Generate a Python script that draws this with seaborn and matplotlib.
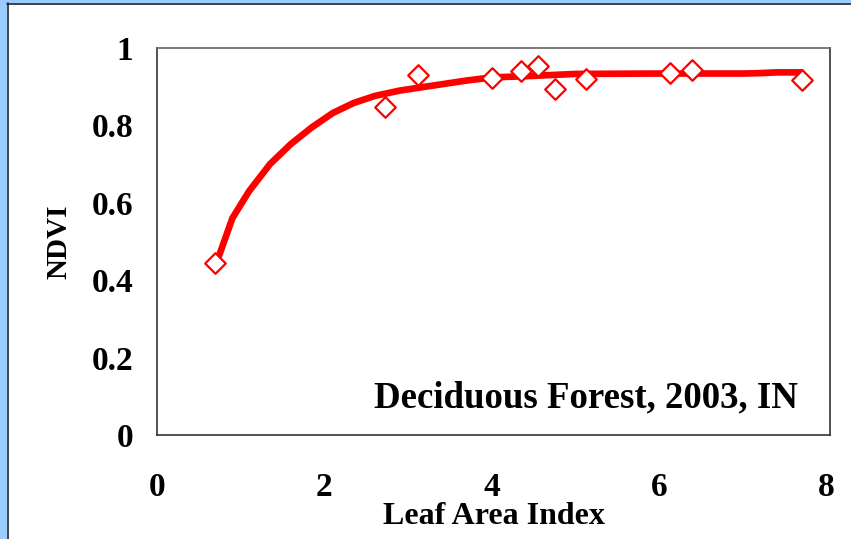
import numpy as np
import pandas as pd
import matplotlib
matplotlib.use("Agg")
import matplotlib.pyplot as plt
import seaborn as sns
from matplotlib.patches import Rectangle
from matplotlib.lines import Line2D

# Observed data
lai_obs = [0.69, 2.72, 3.12, 4.0, 4.35, 4.55, 4.75, 5.12, 6.13, 6.39, 7.71]
ndvi_obs = [0.444, 0.848, 0.930, 0.922, 0.940, 0.953, 0.895, 0.920, 0.935, 0.944, 0.917]

# Fitted curve
lai_fit = [0.72, 0.9, 1.1, 1.35, 1.6, 1.85, 2.1, 2.35, 2.6, 2.9, 3.3, 3.7, 4.0, 4.5,
           5.0, 6.0, 7.0, 7.2, 7.4, 7.7]
ndvi_fit = [0.45, 0.56, 0.63, 0.70, 0.752, 0.795, 0.832, 0.858, 0.876, 0.89, 0.903,
            0.916, 0.924, 0.928, 0.933, 0.934, 0.934, 0.935, 0.937, 0.937]

x_ticks = [0, 2, 4, 6, 8]
y_ticks = [0, 0.2, 0.4, 0.6, 0.8, 1]
y_tick_labels = ["0", "0.2", "0.4", "0.6", "0.8", "1"]

sns.set_style("white")
plt.rcParams['font.family'] = ['Liberation Serif', 'DejaVu Serif']
plt.rcParams['font.weight'] = 'bold'
plt.rcParams['text.color'] = 'black'
plt.rcParams['axes.labelcolor'] = 'black'
plt.rcParams['xtick.labelcolor'] = 'black'
plt.rcParams['ytick.labelcolor'] = 'black'

W, H = 851, 539
fig = plt.figure(figsize=(W / 100, H / 100), dpi=100)
fig.patch.set_facecolor("white")

# blue frame strips
fig.add_artist(Rectangle((0, 0), 7 / W, 1, transform=fig.transFigure, facecolor="#99ccff",
                         edgecolor="none", zorder=0))
fig.add_artist(Rectangle((0, 1 - 3 / H), 1, 3 / H, transform=fig.transFigure, facecolor="#99ccff",
                         edgecolor="none", zorder=0))
fig.add_artist(Line2D([7 / W, 1], [1 - 3.5 / H, 1 - 3.5 / H], transform=fig.transFigure,
                      color="#222222", lw=1.2))
fig.add_artist(Line2D([7.5 / W, 7.5 / W], [0, 1 - 3 / H], transform=fig.transFigure,
                      color="#222222", lw=1.2))

left, right, top, bottom = 157, 830, 48, 435
ax = fig.add_axes([left / W, 1 - bottom / H, (right - left) / W, (bottom - top) / H])

fit_df = pd.DataFrame({"LAI": lai_fit, "NDVI": ndvi_fit})
obs_df = pd.DataFrame({"LAI": lai_obs, "NDVI": ndvi_obs})

sns.lineplot(data=fit_df, x="LAI", y="NDVI", ax=ax, color="#ff0000", lw=4.8, zorder=2)
sns.scatterplot(data=obs_df, x="LAI", y="NDVI", ax=ax, marker="D", s=110,
                facecolor="white", edgecolor="#ff0000", linewidth=1.6, zorder=3)

ax.set_xlim(0, 8.04)
ax.set_ylim(0, 1)
ax.set_xticks(x_ticks)
ax.set_yticks(y_ticks)
ax.set_yticklabels(y_tick_labels)
ax.tick_params(axis="both", which="major", labelsize=24, length=9, width=1, color="#333333",
               direction="out", pad=8)
ax.tick_params(axis="x", pad=18)
for lab in ax.get_xticklabels() + ax.get_yticklabels():
    lab.set_fontweight("bold")

for s in ax.spines.values():
    s.set_color("#333333")
    s.set_linewidth(1.2)
ax.spines["top"].set_color("#666666")

ax.set_xlabel("Leaf Area Index", fontsize=23, fontweight="bold", labelpad=-1)
ax.set_ylabel("NDVI", fontsize=21, fontweight="bold", labelpad=14)

ax.text(0.953, 0.095, "Deciduous Forest, 2003, IN", transform=ax.transAxes, ha="right",
        va="center", fontsize=26.6, fontweight="bold")

fig.savefig("out.png", dpi=100)
